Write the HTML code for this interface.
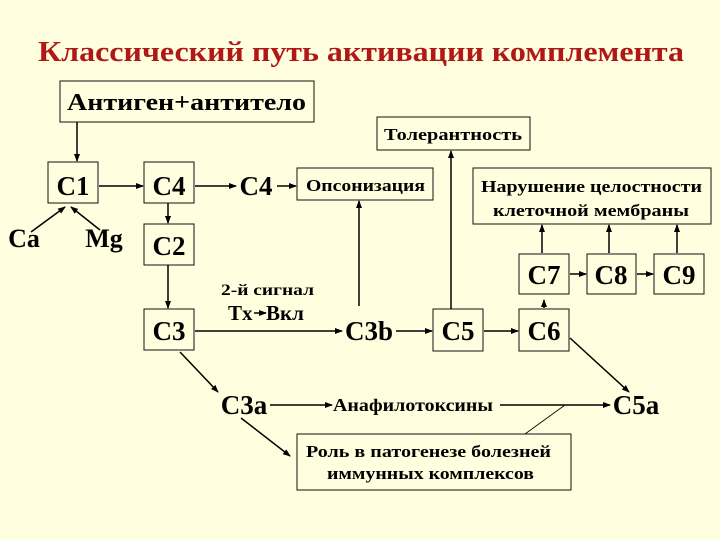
<!DOCTYPE html>
<html><head><meta charset="utf-8"><style>
body{margin:0;background:#ffffdf;}
svg{display:block}
text{font-family:"Liberation Serif",serif;font-weight:bold;fill:#000}
</style></head><body>
<svg width="720" height="540" xmlns="http://www.w3.org/2000/svg">
<defs><marker id="a" markerWidth="8" markerHeight="8" refX="7" refY="4" orient="auto" markerUnits="userSpaceOnUse"><path d="M0,1 L8,4 L0,7 z" fill="#000"/></marker></defs>
<rect width="720" height="540" fill="#ffffdf"/>
<text x="38" y="61" font-size="28" textLength="646" lengthAdjust="spacingAndGlyphs" style="fill:#b01818">Классический путь активации комплемента</text>
<g fill="none" stroke="#111" stroke-width="1">
<rect x="60" y="81" width="254" height="41"/>
<rect x="48" y="162" width="50" height="41"/>
<rect x="144" y="162" width="50" height="41"/>
<rect x="144" y="224" width="50" height="41"/>
<rect x="144" y="309" width="50" height="41"/>
<rect x="297" y="168" width="136" height="32"/>
<rect x="377" y="117" width="153" height="33"/>
<rect x="473" y="168" width="238" height="56"/>
<rect x="433" y="309" width="50" height="42"/>
<rect x="519" y="309" width="50" height="42"/>
<rect x="519" y="254" width="50" height="40"/>
<rect x="587" y="254" width="49" height="40"/>
<rect x="654" y="254" width="50" height="40"/>
<rect x="297" y="434" width="274" height="56"/>
</g>
<g stroke="#000" stroke-width="1.5" marker-end="url(#a)">
<line x1="77" y1="122" x2="77" y2="161"/>
<line x1="99" y1="186" x2="143" y2="186"/>
<line x1="195" y1="186" x2="236" y2="186"/>
<line x1="277" y1="186" x2="296" y2="186"/>
<line x1="168" y1="203" x2="168" y2="223"/>
<line x1="168" y1="265" x2="168" y2="308"/>
<line x1="31" y1="232" x2="65" y2="207"/>
<line x1="100" y1="230" x2="71" y2="207"/>
<line x1="195" y1="331" x2="342" y2="331"/>
<line x1="396" y1="331" x2="432" y2="331"/>
<line x1="484" y1="331" x2="518" y2="331"/>
<line x1="544" y1="308" x2="544" y2="300"/>
<line x1="570" y1="274" x2="586" y2="274"/>
<line x1="637" y1="274" x2="653" y2="274"/>
<line x1="542" y1="253" x2="542" y2="225"/>
<line x1="609" y1="253" x2="609" y2="225"/>
<line x1="677" y1="253" x2="677" y2="225"/>
<line x1="359" y1="306" x2="359" y2="201"/>
<line x1="451" y1="309" x2="451" y2="151"/>
<line x1="570" y1="338" x2="629" y2="392"/>
<line x1="180" y1="352" x2="218" y2="392"/>
<line x1="270" y1="405" x2="332" y2="405"/>
<line x1="500" y1="405" x2="610" y2="405"/>
<line x1="241" y1="418" x2="290" y2="456"/>
<line x1="254" y1="313" x2="266" y2="313"/>
</g>
<line x1="525" y1="434" x2="565" y2="405" stroke="#000" stroke-width="0.8"/>
<text x="67" y="110" font-size="24" textLength="239" lengthAdjust="spacingAndGlyphs">Антиген+антитело</text>
<text x="73" y="195" text-anchor="middle" font-size="27">C1</text>
<text x="169" y="195" text-anchor="middle" font-size="27">C4</text>
<text x="256" y="195" text-anchor="middle" font-size="27">C4</text>
<text x="169" y="255" text-anchor="middle" font-size="27">C2</text>
<text x="169" y="340" text-anchor="middle" font-size="27">C3</text>
<text x="24" y="247" text-anchor="middle" font-size="26">Ca</text>
<text x="104" y="247" text-anchor="middle" font-size="26">Mg</text>
<text x="306" y="191" font-size="17" textLength="119" lengthAdjust="spacingAndGlyphs">Опсонизация</text>
<text x="384" y="140" font-size="17" textLength="138" lengthAdjust="spacingAndGlyphs">Толерантность</text>
<text x="481" y="192" font-size="17" textLength="221" lengthAdjust="spacingAndGlyphs">Нарушение целостности</text>
<text x="493" y="216" font-size="17" textLength="196" lengthAdjust="spacingAndGlyphs">клеточной мембраны</text>
<text x="221" y="295" font-size="16" textLength="93" lengthAdjust="spacingAndGlyphs">2-й сигнал</text>
<text x="228" y="320" font-size="21">Tx</text>
<text x="266" y="320" font-size="21">Вкл</text>
<text x="369" y="340" text-anchor="middle" font-size="27">C3b</text>
<text x="458" y="340" text-anchor="middle" font-size="27">C5</text>
<text x="544" y="340" text-anchor="middle" font-size="27">C6</text>
<text x="544" y="284" text-anchor="middle" font-size="27">C7</text>
<text x="611" y="284" text-anchor="middle" font-size="27">C8</text>
<text x="679" y="284" text-anchor="middle" font-size="27">C9</text>
<text x="244" y="414" text-anchor="middle" font-size="27">C3a</text>
<text x="636" y="414" text-anchor="middle" font-size="27">C5a</text>
<text x="333" y="411" font-size="18" textLength="160" lengthAdjust="spacingAndGlyphs">Анафилотоксины</text>
<text x="306" y="457" font-size="17" textLength="245" lengthAdjust="spacingAndGlyphs">Роль в патогенезе болезней</text>
<text x="327" y="479" font-size="17" textLength="207" lengthAdjust="spacingAndGlyphs">иммунных комплексов</text>
</svg>
</body></html>
